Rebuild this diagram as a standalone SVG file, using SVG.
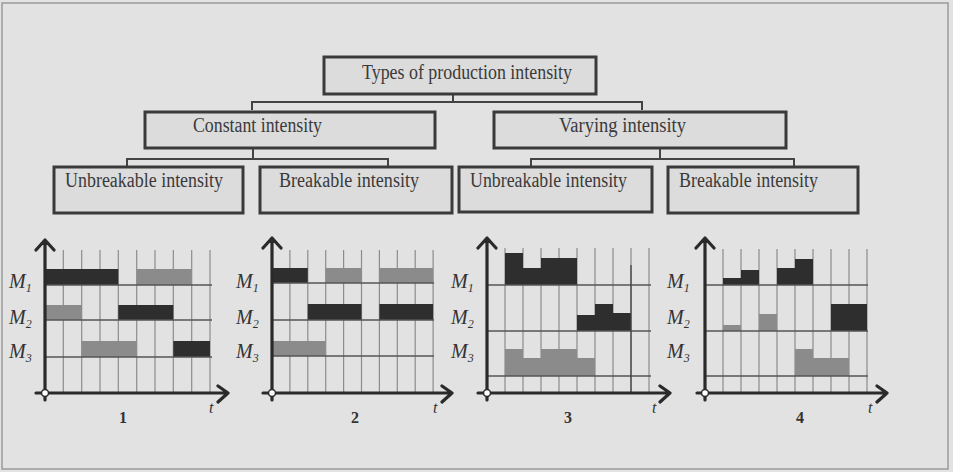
<svg xmlns="http://www.w3.org/2000/svg" width="953" height="472" viewBox="0 0 953 472">
  <style>
    .node rect { fill: #dcdcdc; stroke: #3a3a3a; stroke-width: 3; }
    .node text { font-family: "Liberation Serif", "Times New Roman", serif; font-size: 20px; fill: #3a3a3a; }
    .conn { fill: none; stroke: #444; stroke-width: 2; }
    .grid line { stroke: #8c8c8c; stroke-width: 1.2; }
    .row { stroke: #555; stroke-width: 1.4; }
    .axis { fill: none; stroke: #2a2a2a; stroke-width: 3.2; stroke-linecap: round; stroke-linejoin: round; }
    .origin { fill: #fff; stroke: #2a2a2a; stroke-width: 1.5; }
    .dark { fill: #2e2e2e; }
    .light { fill: #8b8b8b; }
    .mlab { font-family: "Liberation Serif", "Times New Roman", serif; font-style: italic; font-size: 20px; fill: #333; }
    .mlab tspan { font-size: 12px; }
    .num { font-family: "Liberation Serif", "Times New Roman", serif; font-weight: bold; font-size: 16px; fill: #333; text-anchor: middle; }
    .tlab { font-family: "Liberation Serif", "Times New Roman", serif; font-style: italic; font-size: 16px; fill: #333; }
  </style>

  <!-- page background and frame -->
  <rect x="0" y="0" width="953" height="472" fill="#e2e2e2"/>
  <rect x="2" y="3" width="946" height="466" fill="none" stroke="#9a9a9a" stroke-width="1.5"/>

  <!-- tree connectors -->
  <g id="connectors">
    <path class="conn" d="M453 94 V102 M252 110 V102 H642 V110"/>
    <path class="conn" d="M253 148 V159 M127 167 V159 H388 V167"/>
    <path class="conn" d="M660 148 V159 M531 167 V159 H794 V167"/>
  </g>

  <!-- classification tree -->
  <g id="root" class="node">
    <rect x="324" y="57" width="272" height="37"/>
    <text x="362" y="79" textLength="210" lengthAdjust="spacingAndGlyphs">Types of production intensity</text>
  </g>
  <g id="constant" class="node">
    <rect x="145" y="112" width="290" height="36"/>
    <text x="193" y="132" textLength="129" lengthAdjust="spacingAndGlyphs">Constant intensity</text>
  </g>
  <g id="varying" class="node">
    <rect x="494" y="112" width="292" height="36"/>
    <text x="559" y="132" textLength="127" lengthAdjust="spacingAndGlyphs">Varying intensity</text>
  </g>
  <g id="const-unbreakable" class="node">
    <rect x="54" y="167" width="189" height="46"/>
    <text x="65" y="187" textLength="158" lengthAdjust="spacingAndGlyphs">Unbreakable intensity</text>
  </g>
  <g id="const-breakable" class="node">
    <rect x="260" y="167" width="192" height="46"/>
    <text x="279" y="187" textLength="140" lengthAdjust="spacingAndGlyphs">Breakable intensity</text>
  </g>
  <g id="vary-unbreakable" class="node">
    <rect x="459" y="167" width="193" height="45"/>
    <text x="470" y="187" textLength="157" lengthAdjust="spacingAndGlyphs">Unbreakable intensity</text>
  </g>
  <g id="vary-breakable" class="node">
    <rect x="668" y="167" width="190" height="46"/>
    <text x="679" y="187" textLength="139" lengthAdjust="spacingAndGlyphs">Breakable intensity</text>
  </g>

  <!-- chart 1: constant, unbreakable -->
  <g id="chart1">
    <g class="grid">
      <line x1="63.3" y1="250" x2="63.3" y2="393"/><line x1="81.7" y1="250" x2="81.7" y2="393"/>
      <line x1="100" y1="250" x2="100" y2="393"/><line x1="118.3" y1="250" x2="118.3" y2="393"/>
      <line x1="136.7" y1="250" x2="136.7" y2="393"/><line x1="155" y1="250" x2="155" y2="393"/>
      <line x1="173.3" y1="250" x2="173.3" y2="393"/><line x1="191.7" y1="250" x2="191.7" y2="393"/>
      <line x1="210" y1="250" x2="210" y2="393"/>
    </g>
    <rect class="dark" x="45" y="269" width="73.3" height="16"/>
    <rect class="light" x="136.7" y="269" width="55" height="16"/>
    <rect class="light" x="45" y="305" width="36.7" height="15"/>
    <rect class="dark" x="118.3" y="305" width="55" height="15"/>
    <rect class="light" x="81.7" y="341" width="55" height="16"/>
    <rect class="dark" x="173.3" y="341" width="36.7" height="16"/>
    <path class="row" d="M45 285 H212 M45 320 H212 M45 357 H212"/>
    <path class="axis" d="M45 400 V241 M36 250 L45 240 L54 250 M36 393 H228 M218 386 L228 393 L218 402"/>
    <circle class="origin" cx="45" cy="393" r="3.5"/>
    <text class="mlab" x="9" y="288">M<tspan dy="4">1</tspan></text>
    <text class="mlab" x="9" y="324">M<tspan dy="4">2</tspan></text>
    <text class="mlab" x="9" y="358">M<tspan dy="4">3</tspan></text>
    <text class="tlab" x="209" y="413">t</text>
    <text class="num" x="123" y="423">1</text>
  </g>

  <!-- chart 2: constant, breakable -->
  <g id="chart2">
    <g class="grid">
      <line x1="289.9" y1="250" x2="289.9" y2="393"/><line x1="307.8" y1="250" x2="307.8" y2="393"/>
      <line x1="325.7" y1="250" x2="325.7" y2="393"/><line x1="343.6" y1="250" x2="343.6" y2="393"/>
      <line x1="361.5" y1="250" x2="361.5" y2="393"/><line x1="379.4" y1="250" x2="379.4" y2="393"/>
      <line x1="397.3" y1="250" x2="397.3" y2="393"/><line x1="415.2" y1="250" x2="415.2" y2="393"/>
      <line x1="433.1" y1="250" x2="433.1" y2="393"/>
    </g>
    <rect class="dark" x="272" y="268" width="35.8" height="15"/>
    <rect class="light" x="325.7" y="268" width="35.8" height="15"/>
    <rect class="light" x="379.4" y="268" width="53.7" height="15"/>
    <rect class="dark" x="307.8" y="304" width="53.7" height="16"/>
    <rect class="dark" x="379.4" y="304" width="53.7" height="16"/>
    <rect class="light" x="272" y="341" width="53.7" height="15"/>
    <path class="row" d="M272 283 H434 M272 320 H434 M272 356 H434"/>
    <path class="axis" d="M272 400 V239 M263 248 L272 238 L281 248 M263 393 H452 M442 386 L452 393 L442 402"/>
    <circle class="origin" cx="272" cy="393" r="3.5"/>
    <text class="mlab" x="236" y="288">M<tspan dy="4">1</tspan></text>
    <text class="mlab" x="236" y="324">M<tspan dy="4">2</tspan></text>
    <text class="mlab" x="236" y="358">M<tspan dy="4">3</tspan></text>
    <text class="tlab" x="433" y="413">t</text>
    <text class="num" x="355" y="423">2</text>
  </g>

  <!-- chart 3: varying, unbreakable -->
  <g id="chart3">
    <g class="grid">
      <line x1="505" y1="248" x2="505" y2="393"/><line x1="523" y1="248" x2="523" y2="393"/>
      <line x1="541" y1="248" x2="541" y2="393"/><line x1="559" y1="248" x2="559" y2="393"/>
      <line x1="577" y1="248" x2="577" y2="393"/><line x1="595" y1="248" x2="595" y2="393"/>
      <line x1="613" y1="248" x2="613" y2="393"/><line x1="631" y1="248" x2="631" y2="393"/>
      <line x1="649" y1="248" x2="649" y2="393"/>
    </g>
    <path class="dark" d="M505 285 V253 H523 V268 H541 V258 H577 V285 Z"/>
    <path class="dark" d="M577 331 V315 H595 V304 H613 V313 H631 V331 Z"/>
    <path class="light" d="M505 376 V349 H523 V358 H541 V349 H577 V358 H595 V376 Z"/>
    <path class="row" d="M487 285 H651 M487 331 H651 M487 376 H651"/>
    <line x1="631" y1="265" x2="631" y2="393" stroke="#444" stroke-width="1.3"/>
    <path class="axis" d="M487 400 V239 M478 248 L487 238 L496 248 M478 393 H670 M660 386 L670 393 L660 402"/>
    <circle class="origin" cx="487" cy="393" r="3.5"/>
    <text class="mlab" x="451" y="288">M<tspan dy="4">1</tspan></text>
    <text class="mlab" x="451" y="324">M<tspan dy="4">2</tspan></text>
    <text class="mlab" x="451" y="358">M<tspan dy="4">3</tspan></text>
    <text class="tlab" x="652" y="413">t</text>
    <text class="num" x="568" y="423">3</text>
  </g>

  <!-- chart 4: varying, breakable -->
  <g id="chart4">
    <g class="grid">
      <line x1="723" y1="249" x2="723" y2="393"/><line x1="741" y1="249" x2="741" y2="393"/>
      <line x1="759" y1="249" x2="759" y2="393"/><line x1="777" y1="249" x2="777" y2="393"/>
      <line x1="795" y1="249" x2="795" y2="393"/><line x1="813" y1="249" x2="813" y2="393"/>
      <line x1="831" y1="249" x2="831" y2="393"/><line x1="849" y1="249" x2="849" y2="393"/>
      <line x1="867" y1="249" x2="867" y2="393"/>
    </g>
    <path class="dark" d="M723 285 V278 H741 V270 H759 V285 Z"/>
    <path class="dark" d="M777 285 V268 H795 V259 H813 V285 Z"/>
    <rect class="light" x="723" y="325" width="18" height="6"/>
    <rect class="light" x="759" y="314" width="18" height="17"/>
    <rect class="dark" x="831" y="304" width="36" height="27"/>
    <path class="light" d="M795 376 V349 H813 V358 H849 V376 Z"/>
    <path class="row" d="M705 285 H868 M705 331 H868 M705 376 H868"/>
    <path class="axis" d="M705 400 V239 M696 248 L705 238 L714 248 M697 393 H887 M877 386 L887 393 L877 402"/>
    <circle class="origin" cx="705" cy="393" r="3.5"/>
    <text class="mlab" x="667" y="288">M<tspan dy="4">1</tspan></text>
    <text class="mlab" x="667" y="324">M<tspan dy="4">2</tspan></text>
    <text class="mlab" x="667" y="358">M<tspan dy="4">3</tspan></text>
    <text class="tlab" x="868" y="413">t</text>
    <text class="num" x="800" y="423">4</text>
  </g>
</svg>
